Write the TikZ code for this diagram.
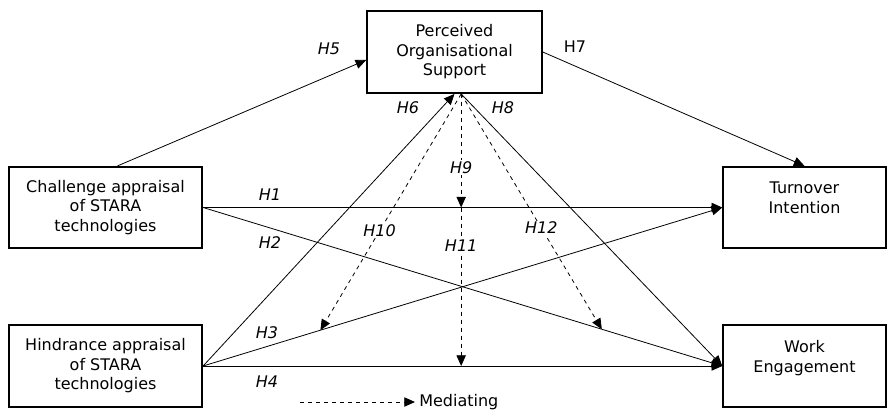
\documentclass[tikz,border=0pt]{standalone}
\usepackage{fontspec}
\setmainfont{DejaVu Sans}
\usetikzlibrary{arrows.meta,positioning,calc}

\begin{document}
\begin{tikzpicture}[x=0.75pt,y=-0.75pt,
    box/.style={draw, line width=1.4pt, align=center, inner sep=0pt,
        font=\fontsize{12}{14.6}\selectfont},
    link/.style={line width=0.6pt, -{Triangle[length=8pt,width=7pt]}},
    med/.style={link, dashed},
    hyp/.style={font=\fontsize{12}{14}\selectfont\itshape, inner sep=1pt}]
    \useasboundingbox (0,0) rectangle (890,414);

    % constructs
    \node[box, minimum width=131pt, minimum height=61.5pt] (pos) at (454.5,52) {Perceived\\Organisational\\Support};
    \node[box, minimum width=145pt, minimum height=61pt] (chal) at (105.5,207.5) {Challenge appraisal\\of STARA\\technologies};
    \node[box, minimum width=145pt, minimum height=61pt] (hind) at (105.5,366) {Hindrance appraisal\\of STARA\\technologies};
    \node[box, minimum width=122pt, minimum height=61pt] (turn) at (804.5,207.5) {Turnover\\Intention\\\mbox{}};
    \node[box, minimum width=122pt, minimum height=61pt] (work) at (804.5,366) {Work\\Engagement\\\mbox{}};

    \coordinate (apex) at ([xshift=5pt]pos.south);

    % direct paths
    \draw[link] ([xshift=9pt]chal.north) -- ([yshift=-6pt]pos.west);
    \draw[link] (pos.east) -- (turn.north);
    \draw[link] (chal.east) -- (turn.west);
    \draw[link] (chal.east) -- (work.west);
    \draw[link] (hind.east) -- (turn.west);
    \draw[link] (hind.east) -- (work.west);
    \draw[link] (hind.east) -- (pos.south);
    \draw[link] (apex) -- (work.west);

    % mediating paths
    \coordinate (m1) at (apex |- chal.east);
    \coordinate (m2) at (apex |- hind.east);
    \coordinate (m3) at ($(hind.east)!0.226!(turn.west)$);
    \coordinate (m4) at ($(chal.east)!0.768!(work.west)$);
    \draw[med] (apex) -- (m1) node[hyp, fill=white, pos=0.65] (h9) {H9};
    \draw[med] (m1) -- (m2) node[hyp, fill=white, pos=0.24] (h11) {H11};
    \draw[med] (apex) -- (m3) node[hyp, fill=white, pos=0.58] (h10) {H10};
    \draw[med] (apex) -- (m4) node[hyp, fill=white, pos=0.57] (h12) {H12};

    % hypothesis labels
    \node[hyp] (h5) at (329,49) {H5};
    \node[hyp] (h6) at (408,108) {H6};
    \node[hyp, font=\fontsize{12}{14}\selectfont] (h7) at (575,47) {H7};
    \node[hyp] (h8) at (503,108) {H8};
    \node[hyp] (h1) at (270,195) {H1};
    \node[hyp] (h2) at (270,243) {H2};
    \node[hyp] (h3) at (267,333) {H3};
    \node[hyp] (h4) at (267,382) {H4};

    % legend
    \coordinate (legs) at (300,402);
    \node[anchor=west, inner sep=3pt, font=\fontsize{12}{14}\selectfont] (legt) at (415,402) {Mediating};
    \draw[med] (legs) -- (legt.west);
\end{tikzpicture}
\end{document}
